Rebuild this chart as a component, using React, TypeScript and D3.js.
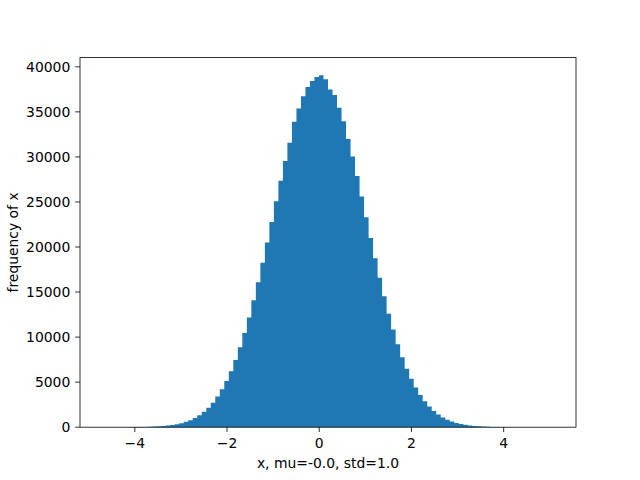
import React from "react";
import * as d3 from "d3";

const binStart = -4.70;
const binEnd = 5.08;
const counts = [
  1, 1, 2, 3, 4, 7, 10, 15, 22, 32,
  46, 65, 92, 128, 177, 244, 331, 445, 593, 784,
  1026, 1327, 1704, 2166, 2723, 3397, 4199, 5129, 6215, 7463,
  8882, 10443, 12182, 14083, 16094, 18248, 20489, 22766, 25082, 27368,
  29552, 31560, 33900, 35380, 36720, 37750, 38430, 38880, 39070, 38630,
  37480, 36870, 35450, 33960, 32000, 30055, 27871, 25599, 23309, 21003,
  18744, 16591, 14527, 12597, 10837, 9220, 7769, 6484, 5370, 4398,
  3566, 2870, 2285, 1800, 1408, 1089, 834, 634, 476, 354,
  262, 191, 138, 99, 71, 50, 35, 24, 16, 11,
  7, 5, 3, 2, 1, 1, 0, 0, 0, 1,
];
const xTicks = [-4, -2, 0, 2, 4];
const yTicks = [0, 5000, 10000, 15000, 20000, 25000, 30000, 35000, 40000];
const xLabel = "x, mu=-0.0, std=1.0";
const yLabel = "frequency of x";

const W = 640, H = 480;
const L = 80, R = 576, T = 57.6, B = 427.2;
const FONT = "DejaVu Sans, sans-serif";
const FS = 13.9;
const TICK = 4.86;
const fmt = (v: number) => (v < 0 ? "\u2212" + Math.abs(v) : String(v));

export default function App() {
  const span = binEnd - binStart;
  const x = d3.scaleLinear().domain([binStart - 0.05 * span, binEnd + 0.05 * span]).range([L, R]);
  const maxC = d3.max(counts) as number;
  const y = d3.scaleLinear().domain([0, maxC * 1.05]).range([B, T]);
  const bw = span / counts.length;
  const p = d3.path();
  counts.forEach((c, i) => {
    if (c <= 0) return;
    const x0 = x(binStart + i * bw);
    const x1 = x(binStart + (i + 1) * bw);
    p.rect(x0, y(c), x1 - x0, B - y(c));
  });
  return (
    <svg width={W} height={H} style={{ position: "absolute", left: 0, top: 0, background: "#fff" }} fontFamily={FONT}>
      <rect x={0} y={0} width={W} height={H} fill="#fff" />
      <path d={p.toString()} fill="#1f77b4" fillRule="nonzero" />
      <rect x={L} y={T} width={R - L} height={B - T} fill="none" stroke="#000" strokeWidth={0.8} />
      {xTicks.map((t) => (
        <g key={t}>
          <line x1={x(t)} x2={x(t)} y1={B} y2={B + TICK} stroke="#000" strokeWidth={0.8} />
          <text x={x(t)} y={B + TICK + 4.86 + 10.6} fontSize={FS} textAnchor="middle" fill="#000">{fmt(t)}</text>
        </g>
      ))}
      {yTicks.map((t) => (
        <g key={t}>
          <line x1={L - TICK} x2={L} y1={y(t)} y2={y(t)} stroke="#000" strokeWidth={0.8} />
          <text x={L - TICK - 4.86} y={y(t)} dy="0.35em" fontSize={FS} textAnchor="end" fill="#000">{fmt(t)}</text>
        </g>
      ))}
      <text x={(L + R) / 2} y={468} fontSize={FS} textAnchor="middle" fill="#000">{xLabel}</text>
      <text transform={`translate(18,${(T + B) / 2}) rotate(-90)`} fontSize={FS} textAnchor="middle" fill="#000">{yLabel}</text>
    </svg>
  );
}
